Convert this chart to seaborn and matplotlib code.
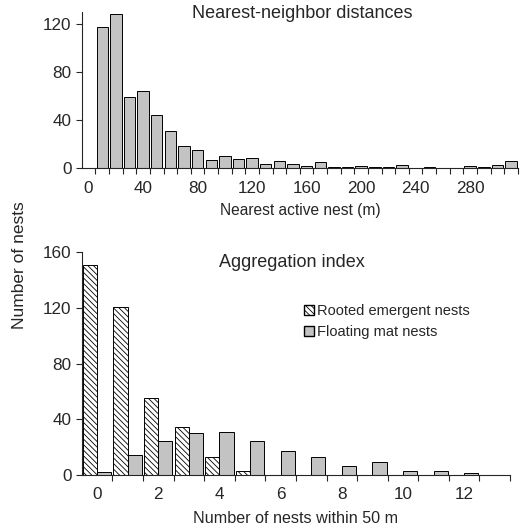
import numpy as np
import pandas as pd
import seaborn as sns
import matplotlib.pyplot as plt
from matplotlib.patches import Patch

# nearest-neighbor distance bins (10 m each) and counts
dist_bins = [str(10 * i) for i in range(32)]
dist_counts = [0, 117, 128, 59, 64, 44, 31, 19, 15, 7, 10, 8, 9, 4, 6, 4,
               2, 5, 1, 1, 2, 1, 1, 3, 0, 1, 0, 0, 2, 1, 3, 6]

# aggregation index: number of nests within 50 m
nest_bins = [str(i) for i in range(14)]
rooted_counts = [151, 121, 55, 34, 13, 3, 0, 0, 0, 0, 0, 0, 0, 0]
floating_counts = [2, 14, 24, 30, 31, 24, 17, 13, 6, 9, 3, 3, 1, 0]
groups = ['Rooted emergent nests', 'Floating mat nests']

sns.set_style('ticks')
plt.rcParams['font.family'] = ['Liberation Sans', 'DejaVu Sans']
plt.rcParams['hatch.linewidth'] = 0.6
tick_fs = 12.3
title_fs = 13
gray = '#c3c3c3'
hatch = '\\\\\\\\\\\\'

fig = plt.figure(figsize=(5.21, 5.28), dpi=100)
ax1 = fig.add_axes([0.157, 0.681, 0.837, 0.297])
ax2 = fig.add_axes([0.157, 0.101, 0.822, 0.421])

# 上图
sns.barplot(x=dist_bins, y=dist_counts, order=dist_bins, color=gray,
            edgecolor='black', linewidth=0.7, width=0.84, saturation=1, ax=ax1)
ax1.set_xlim(-0.5, 31.5)
ax1.set_ylim(0, 130)
ax1.set_yticks([0, 40, 80, 120])
ax1.set_xticks(range(0, 32, 4))
ax1.set_xticklabels(dist_bins[::4])
ax1.set_xticks(np.arange(0.5, 32, 1), minor=True)
ax1.tick_params(axis='x', which='major', length=0, pad=9, labelsize=tick_fs)
ax1.tick_params(axis='x', which='minor', length=4, width=0.8, direction='out')
ax1.tick_params(axis='y', length=4, width=0.8, labelsize=tick_fs)
ax1.set_xlabel('Nearest active nest (m)', fontsize=11.2, labelpad=5)
ax1.set_ylabel('')
ax1.text(0.505, 0.985, 'Nearest-neighbor distances', transform=ax1.transAxes,
         ha='center', va='center', fontsize=title_fs)

# 下图
df = pd.DataFrame({
    'n': nest_bins * 2,
    'count': rooted_counts + floating_counts,
    'type': [groups[0]] * len(nest_bins) + [groups[1]] * len(nest_bins),
})
sns.barplot(data=df, x='n', y='count', hue='type', order=nest_bins, hue_order=groups,
            palette=['white', gray], edgecolor='black', linewidth=0.7,
            width=0.93, gap=0, saturation=1, legend=False, ax=ax2)
for bar in ax2.containers[0]:
    bar.set_hatch(hatch)
ax2.set_xlim(-0.5, 13.5)
ax2.set_ylim(0, 160)
ax2.set_yticks([0, 40, 80, 120, 160])
ax2.set_xticks(range(0, 14, 2))
ax2.set_xticklabels(nest_bins[::2])
ax2.set_xticks(np.arange(0.5, 14, 1), minor=True)
ax2.tick_params(axis='x', which='major', length=0, pad=9, labelsize=tick_fs)
ax2.tick_params(axis='x', which='minor', length=4, width=0.8, direction='out')
ax2.tick_params(axis='y', length=4, width=0.8, labelsize=tick_fs)
ax2.set_xlabel('Number of nests within 50 m', fontsize=11.6, labelpad=6)
ax2.set_ylabel('')
ax2.text(0.49, 0.953, 'Aggregation index', transform=ax2.transAxes,
         ha='center', va='center', fontsize=title_fs)
handles = [Patch(facecolor='white', edgecolor='black', hatch=hatch, label=groups[0]),
           Patch(facecolor=gray, edgecolor='black', label=groups[1])]
ax2.legend(handles=handles, loc='upper left', bbox_to_anchor=(0.502, 0.8),
           frameon=False, fontsize=10.5, handlelength=0.7, handleheight=0.7,
           handletextpad=0.2, borderpad=0, labelspacing=0.5)

for ax in (ax1, ax2):
    sns.despine(ax=ax)
    for s in ('left', 'bottom'):
        ax.spines[s].set_linewidth(0.8)

fig.text(0.037, 0.498, 'Number of nests', rotation=90, ha='center', va='center', fontsize=12.5)

fig.savefig('out.png', dpi=100)
